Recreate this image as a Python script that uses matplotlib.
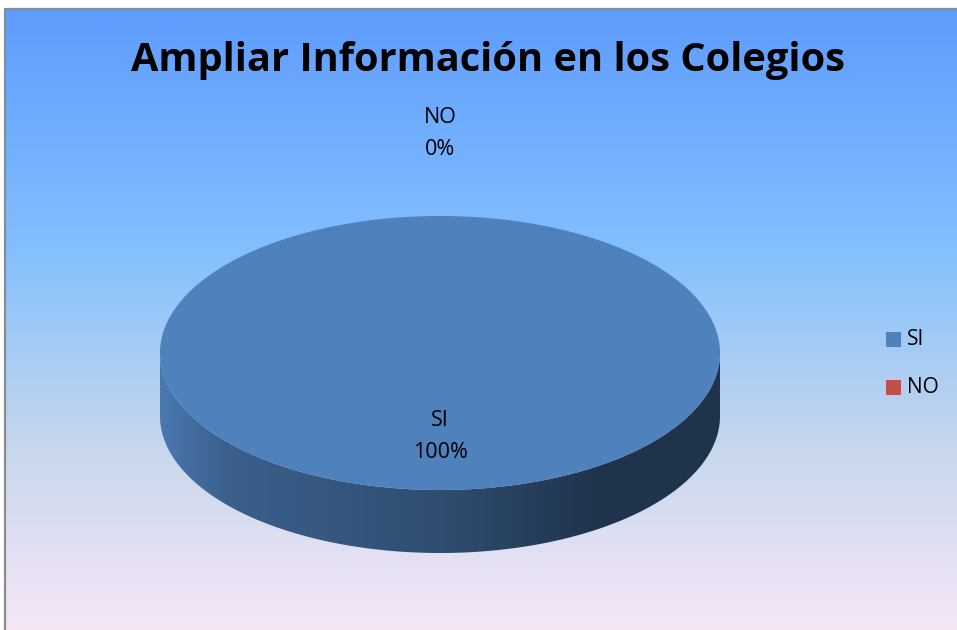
import numpy as np
import matplotlib
matplotlib.use("Agg")
import matplotlib.pyplot as plt
from matplotlib.colors import LinearSegmentedColormap, to_rgb
from matplotlib.path import Path
from matplotlib.patches import PathPatch, Rectangle

# ---- data ----
title = "Ampliar Información en los Colegios"
categories = ["SI", "NO"]
values = [100, 0]
colors = ["#4F81BD", "#C0504D"]

W, H = 957, 630
fig = plt.figure(figsize=(W / 100, H / 100), dpi=100)
ax = fig.add_axes([0, 0, 1, 1])
ax.set_xlim(0, W)
ax.set_ylim(H, 0)
ax.axis("off")

# background gradient of chart area
bg = LinearSegmentedColormap.from_list(
    "bg", [(0.0, "#5E9CFE"), (0.37, "#82BFFE"), (0.68, "#C6D7EC"), (1.0, "#FBE8F8")])
grad = np.linspace(0, 1, 512).reshape(-1, 1)
x0, y0 = 5, 9
bottom_ext = 650
ax.imshow(grad, cmap=bg, aspect="auto", extent=[x0, W, bottom_ext, y0], zorder=0)
ax.set_xlim(0, W)
ax.set_ylim(H, 0)
ax.plot([x0 - 0.5, x0 - 0.5, W], [H, y0 - 0.5, y0 - 0.5], color="#8c8c8c", lw=1.6, zorder=1)

# ---- 3D pie geometry ----
cx, cy, a, b, depth = 440, 353, 280, 137, 63
total = float(sum(values))
fracs = [v / total for v in values]
start = -90.0  # top, clockwise on screen (y axis points down)
bounds = []
acc = start
for f in fracs:
    bounds.append((acc, acc + 360.0 * f))
    acc += 360.0 * f


def ell(t_deg, dy=0.0):
    t = np.radians(t_deg)
    return np.column_stack([cx + a * np.cos(t), cy + dy + b * np.sin(t)])


def shade(col, k):
    r, g, bb = to_rgb(col)
    return (r * k, g * k, bb * k)


# side walls (front half: angles 0..180 in screen coords)
for (t1, t2), col, v in zip(bounds, colors, values):
    if v <= 0:
        continue
    segs = []
    for off in (0, 360, -360):
        lo, hi = max(t1 + off, 0), min(t2 + off, 180)
        if hi > lo:
            segs.append((lo, hi))
    for lo, hi in segs:
        ts = np.linspace(lo, hi, 200)
        top = ell(ts)
        bot = ell(ts[::-1], depth)
        verts = np.vstack([top, bot, top[:1]])
        codes = [Path.MOVETO] + [Path.LINETO] * (len(verts) - 2) + [Path.CLOSEPOLY]
        path = Path(verts, codes)
        patch = PathPatch(path, facecolor="none", edgecolor="none", zorder=2)
        ax.add_patch(patch)
        # horizontal shading gradient
        xs = np.linspace(0, 1, 400)
        k = np.interp(xs, [0.0, 0.12, 0.5, 0.78, 1.0], [0.93, 0.74, 0.60, 0.40, 0.40])
        img = np.array([[shade(col, kk) for kk in k]])
        im = ax.imshow(img, aspect="auto", extent=[cx - a, cx + a, cy + b + depth + 2, cy - 2],
                       zorder=2, interpolation="bilinear")
        im.set_clip_path(patch)

ax.set_xlim(0, W)
ax.set_ylim(H, 0)

# top faces
for (t1, t2), col, v in zip(bounds, colors, values):
    if v <= 0:
        continue
    ts = np.linspace(t1, t2, 400)
    pts = ell(ts)
    if abs(t2 - t1) < 359.999:
        pts = np.vstack([[cx, cy], pts])
    ax.fill(pts[:, 0], pts[:, 1], color=col, lw=0, zorder=3)

# data labels
lab_font = dict(family=["Open Sans", "DejaVu Sans"], fontsize=15.5, color="black",
                ha="center", va="center", zorder=5, linespacing=1.7)
for (t1, t2), cat, v in zip(bounds, categories, values):
    mid = (t1 + t2) / 2
    r = 0.61 if v > 0 else 1.6
    lx = cx + r * a * np.cos(np.radians(mid))
    ly = cy + r * b * np.sin(np.radians(mid))
    ax.text(lx, ly, f"{cat}\n{v / total:.0%}", **lab_font)

# title
t = ax.text(488, 61, title, family=["Open Sans", "DejaVu Sans"], fontweight="bold",
            fontsize=32, ha="center", va="center", color="black", zorder=5)
fig.canvas.draw()
bb_ = t.get_window_extent()
t.set_fontsize(32 * 715 / bb_.width)

# legend
for i, (cat, col) in enumerate(zip(categories, colors)):
    ly = 339.5 + i * 48
    ax.add_patch(Rectangle((886, ly - 7.5), 15, 15, facecolor=col, edgecolor="none", zorder=5))
    ax.text(907, ly, cat, family=["Open Sans", "DejaVu Sans"], fontsize=15,
            ha="left", va="center", zorder=5)

fig.savefig("out.png", dpi=100)
